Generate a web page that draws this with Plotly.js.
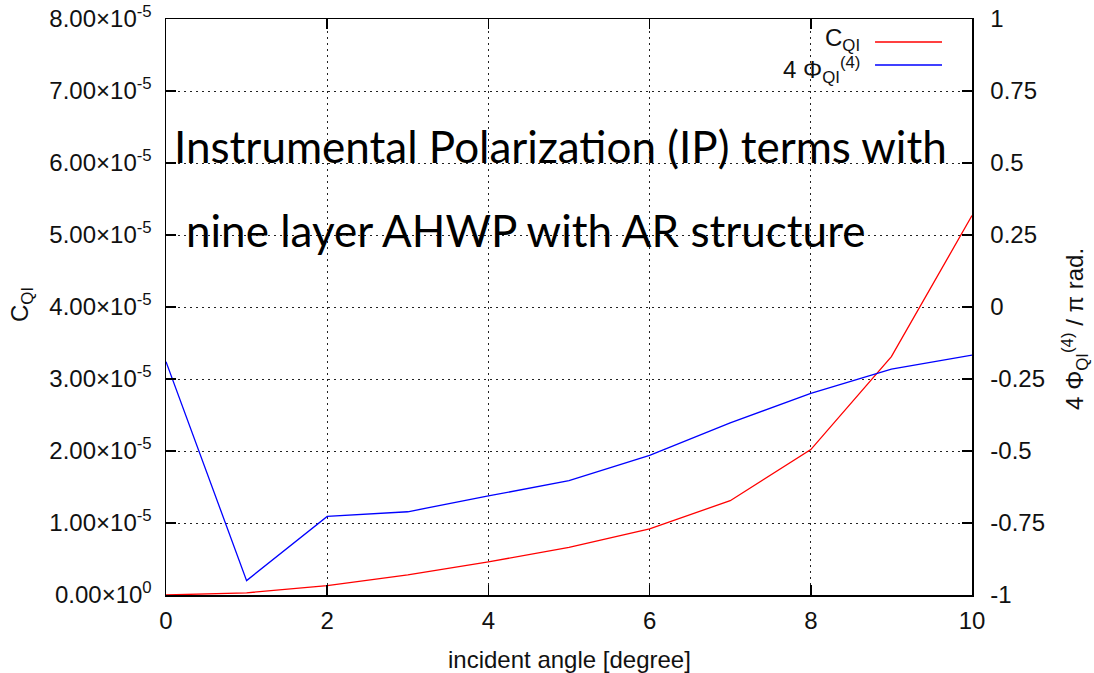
<!DOCTYPE html>
<html>
<head>
<meta charset="utf-8">
<script src="https://cdn.plot.ly/plotly-3.0.1.min.js"></script>
<style>
  html, body { margin: 0; padding: 0; background: #fff; }
  #chart { width: 1094px; height: 673px; }
</style>
</head>
<body>
<div id="chart"></div>
<script>
// Incident angle in degrees
const angles = [0, 1, 2, 3, 4, 5, 6, 7, 8, 9, 10];
// C_QI coefficient (left axis)
const cQI = [0, 3e-7, 1.3e-6, 2.8e-6, 4.6e-6, 6.6e-6, 9.2e-6, 1.31e-5, 2.02e-5, 3.31e-5, 5.27e-5];
// 4 Phi_QI^(4) / pi rad. (right axis)
const phiQI = [-0.19, -0.95, -0.727, -0.711, -0.656, -0.603, -0.515, -0.402, -0.30, -0.216, -0.167];

// Axis ticks
const xTicks = [0, 2, 4, 6, 8, 10];
const leftTickVals = [0, 1e-5, 2e-5, 3e-5, 4e-5, 5e-5, 6e-5, 7e-5, 8e-5];
const leftTickText = ['0.00×10<sup>0</sup>', '1.00×10<sup>-5</sup>', '2.00×10<sup>-5</sup>',
  '3.00×10<sup>-5</sup>', '4.00×10<sup>-5</sup>', '5.00×10<sup>-5</sup>',
  '6.00×10<sup>-5</sup>', '7.00×10<sup>-5</sup>', '8.00×10<sup>-5</sup>'];
const rightTickVals = [-1, -0.75, -0.5, -0.25, 0, 0.25, 0.5, 0.75, 1];
const rightTickText = ['-1', '-0.75', '-0.5', '-0.25', '0', '0.25', '0.5', '0.75', '1'];

const seriesNames = ['C<sub>QI</sub>', '4 Φ<sub>QI</sub><sup>(4)</sup>'];
const seriesColors = ['#ff0000', '#0000ff'];

const axisFont = { family: 'Liberation Sans, Arial, sans-serif', size: 24, color: '#111' };
const slideFont = { family: 'Lato, Open Sans, sans-serif', size: 44, color: '#000' };

const traces = [
  { x: angles, y: cQI, name: seriesNames[0], type: 'scatter', mode: 'lines',
    line: { color: seriesColors[0], width: 1.3 }, yaxis: 'y', showlegend: false },
  { x: angles, y: phiQI, name: seriesNames[1], type: 'scatter', mode: 'lines',
    line: { color: seriesColors[1], width: 1.3 }, yaxis: 'y2', showlegend: false }
];

// Key in the top-right corner: label on the left, line sample on the right
const keyRows = [0.960, 0.920];
const keyShapes = keyRows.map((yy, i) => ({
  type: 'line', xref: 'paper', yref: 'paper', x0: 0.8797, x1: 0.9628, y0: yy, y1: yy,
  line: { color: seriesColors[i], width: 1.5 }
}));
const keyLabels = keyRows.map((yy, i) => ({
  xref: 'paper', yref: 'paper', x: 0.8635, y: yy + (i === 0 ? 0.004 : -0.008),
  xanchor: 'right', yanchor: 'middle',
  text: seriesNames[i], showarrow: false, font: axisFont
}));

const layout = {
  width: 1094, height: 673,
  margin: { l: 166, r: 122, t: 19, b: 78 },
  paper_bgcolor: '#fff', plot_bgcolor: '#fff',
  showlegend: false,
  xaxis: {
    range: [0, 10], tickvals: xTicks, ticktext: xTicks.map(String),
    ticks: 'inside', ticklen: 10, tickwidth: 1.5, tickcolor: '#000',
    showline: true, linecolor: '#000', linewidth: 1.5, mirror: 'ticks',
    showgrid: true, gridcolor: '#222', gridwidth: 1, griddash: '2px,4px',
    zeroline: false, tickfont: axisFont, ticklabelstandoff: 4
  },
  yaxis: {
    range: [0, 8e-5], tickvals: leftTickVals, ticktext: leftTickText,
    ticks: 'inside', ticklen: 10, tickwidth: 1.5, tickcolor: '#000',
    showline: true, linecolor: '#000', linewidth: 1.5,
    showgrid: true, gridcolor: '#222', gridwidth: 1, griddash: '2px,4px',
    zeroline: false, tickfont: axisFont, ticklabelstandoff: 8
  },
  yaxis2: {
    range: [-1, 1], tickvals: rightTickVals, ticktext: rightTickText,
    overlaying: 'y', side: 'right',
    ticks: 'inside', ticklen: 10, tickwidth: 1.5, tickcolor: '#000',
    showline: true, linecolor: '#000', linewidth: 1.5,
    showgrid: false, zeroline: false, tickfont: axisFont, ticklabelstandoff: 12
  },
  shapes: keyShapes,
  annotations: [
    { xref: 'paper', yref: 'paper', x: 0, y: 0.5035, xshift: -144, textangle: -90,
      xanchor: 'center', yanchor: 'middle', text: 'C<sub>QI</sub>', showarrow: false, font: axisFont },
    { xref: 'paper', yref: 'paper', x: 1, y: 0.462, xshift: 103, textangle: -90,
      xanchor: 'center', yanchor: 'middle', text: '4 Φ<sub>QI</sub><sup>(4)</sup> / π rad.',
      showarrow: false, font: axisFont },
    { xref: 'paper', yref: 'paper', x: 0.5, y: -0.1128, xanchor: 'center', yanchor: 'middle',
      text: 'incident angle [degree]', showarrow: false, font: axisFont },
    { xref: 'paper', yref: 'paper', x: 0, y: 0.780, xshift: 6, xanchor: 'left', yanchor: 'middle',
      text: 'Instrumental Polarization (IP) terms with', showarrow: false, font: slideFont },
    { xref: 'paper', yref: 'paper', x: 0, y: 0.633, xshift: 18, xanchor: 'left', yanchor: 'middle',
      text: 'nine layer AHWP with AR structure', showarrow: false, font: slideFont }
  ].concat(keyLabels)
};

Plotly.newPlot('chart', traces, layout, { displayModeBar: false, staticPlot: true });
</script>
</body>
</html>
